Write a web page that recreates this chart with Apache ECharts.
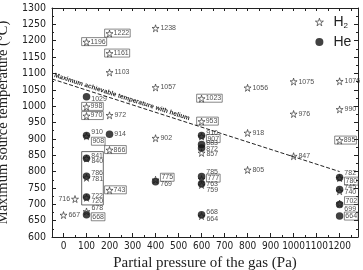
<!DOCTYPE html>
<html>
<head>
<meta charset="utf-8">
<script src="https://cdn.jsdelivr.net/npm/echarts@6/dist/echarts.min.js"></script>
<style>
  html, body { margin: 0; padding: 0; background: #fff; }
  #chart { width: 363px; height: 270px; }
</style>
</head>
<body>
<div id="chart"></div>
<script>
// values (Pa, degC)
const h2Pressure = [0, 50, 100, 100, 100, 100, 100, 100, 100, 100, 200, 200, 200, 200, 200, 200, 400, 400, 400, 400, 600, 600, 600, 600, 600, 600, 600, 800, 800, 800, 1000, 1000, 1000, 1200, 1200, 1200, 1200, 1200, 1200]
const h2Temp = [667, 716, 1196, 998, 970, 908, 840, 781, 720, 678, 1222, 1161, 1103, 972, 866, 743, 1238, 1057, 902, 775, 1023, 953, 907, 857, 777, 759, 664, 1056, 918, 805, 1075, 976, 847, 1076, 990, 895, 780, 740, 702]
const hePressure = [100, 100, 100, 100, 100, 100, 200, 400, 600, 600, 600, 600, 600, 600, 1200, 1200, 1200, 1200]
const heTemp = [1029, 910, 841, 786, 722, 668, 914, 769, 910, 883, 872, 785, 763, 668, 782, 745, 699, 664]

// dashed "maximum achievable temperature with helium" line, end points
const limitPressure = [-50, 1200]
const limitTemp = [1083, 800]

// the tall frame round the 100 Pa group
const groupPressure = [79, 173]
const groupTemp = [861, 698]

const xTicks = [0, 100, 200, 300, 400, 500, 600, 700, 800, 900, 1000, 1100, 1200]

// label styling (which labels are framed, small vertical nudges)
const boxedWithSymbol = ['100-1196', '100-998', '100-970', '200-1222', '200-1161', '200-866', '200-743', '600-1023', '600-953', '1200-895']
const boxedLabel = ['100-908', '100-668', '400-775', '600-907', '600-777', '1200-780', '1200-702', '1200-664']
const labelLeft = ['50-716']
const nudge = {
  '100-1029': 2, '100-910': -4, '100-908': 5, '100-841': -2.5, '100-840': 3,
  '100-786': -3, '100-781': 1, '100-722': -1, '100-720': 3, '100-678': -3, '100-668': 2,
  '400-775': -2.5, '400-769': 2.5,
  '600-910': -3, '600-907': 2, '600-883': -1, '600-872': 1, '600-857': 1,
  '600-785': -4, '600-777': -1, '600-763': 0, '600-759': 5, '600-668': -2.5, '600-664': 3,
  '1200-782': -4, '1200-780': 3, '1200-745': -3, '1200-740': 1, '1200-702': -3, '1200-699': 4, '1200-664': 0
}

const star = 'path://M50,0 L61,35 L98,35 L68,57 L79,91 L50,70 L21,91 L32,57 L2,35 L39,35 Z'
const sans = 'Liberation Sans, Arial, sans-serif'
const narrow = "'Liberation Sans Narrow', 'DejaVu Sans Condensed', 'Liberation Sans', sans-serif"
const serif = "'Liberation Serif', 'Times New Roman', serif"
const hollow = { color: '#fff', borderColor: '#222', borderWidth: 0.8 }

function pointLabel (p, t) {
  const key = p + '-' + t
  const lab = {
    show: true,
    formatter: String(t),
    position: 'right',
    distance: 1,
    offset: [0, nudge[key] || 0],
    fontSize: 7,
    fontFamily: sans,
    color: '#222'
  }
  if (boxedWithSymbol.includes(key)) {
    Object.assign(lab, {
      position: [-1, 3.5],
      align: 'left',
      verticalAlign: 'middle',
      padding: [1, 1, 0, 9],
      borderColor: '#444',
      borderWidth: 0.8
    })
  } else if (boxedLabel.includes(key)) {
    Object.assign(lab, { padding: [1, 1, 0, 1], borderColor: '#444', borderWidth: 0.8 })
  }
  if (labelLeft.includes(key)) lab.position = 'left'
  return lab
}

function build (ps, ts) {
  return ps.map((p, i) => ({ value: [p, ts[i]], label: pointLabel(p, ts[i]) }))
}

const chart = echarts.init(document.getElementById('chart'))

const axisLine = { show: true, onZero: false, lineStyle: { color: '#222', width: 1 } }
const plain = v => String(v)

chart.setOption({
  animation: false,
  backgroundColor: '#fff',
  grid: { left: 52, right: 5, top: 8, bottom: 33, outerBoundsMode: 'none', containLabel: false },
  legend: {
    orient: 'vertical',
    left: 310,
    top: 10,
    itemGap: 5,
    itemWidth: 8,
    itemHeight: 8,
    data: [
      { name: 'H2', icon: star, itemStyle: hollow },
      { name: 'He', icon: 'circle' }
    ],
    formatter: name => name === 'H2' ? '{h|H}{s|2}' : '{h|He}',
    textStyle: {
      rich: {
        h: { fontSize: 14, lineHeight: 16, padding: [0, 0, 0, 5], fontFamily: sans, color: '#222' },
        s: { fontSize: 8, lineHeight: 8, verticalAlign: 'bottom', fontFamily: sans, color: '#222' }
      }
    }
  },
  xAxis: [
    {
      type: 'value',
      position: 'bottom',
      min: -50,
      max: 1280,
      interval: 50,
      axisLine,
      axisTick: { inside: true, length: 4, customValues: xTicks, lineStyle: { color: '#222' } },
      axisLabel: { customValues: xTicks, formatter: plain, margin: 4, fontSize: 10, fontFamily: narrow, color: '#222' },
      splitLine: { show: false },
      name: 'Partial pressure of the gas (Pa)',
      nameLocation: 'middle',
      nameGap: 17,
      nameTextStyle: { fontFamily: serif, fontSize: 15, color: '#222' }
    },
    {
      type: 'value',
      position: 'bottom',
      min: -50,
      max: 1280,
      interval: 50,
      axisLine: { show: false },
      axisTick: { inside: true, length: 2, lineStyle: { color: '#222' } },
      axisLabel: { show: false },
      splitLine: { show: false }
    },
    {
      type: 'value',
      position: 'top',
      min: -50,
      max: 1280,
      interval: 50,
      axisLine,
      axisTick: { inside: true, length: 3, lineStyle: { color: '#222' } },
      axisLabel: { show: false },
      splitLine: { show: false }
    }
  ],
  yAxis: [
    {
      type: 'value',
      position: 'left',
      min: 600,
      max: 1300,
      interval: 50,
      axisLine,
      axisTick: { inside: true, length: 4, lineStyle: { color: '#222' } },
      minorTick: { show: true, splitNumber: 2, length: 2, lineStyle: { color: '#222' } },
      axisLabel: { formatter: plain, margin: 6, fontSize: 10.5, fontFamily: narrow, color: '#222' },
      splitLine: { show: false },
      name: 'Maximum source temperature (°C)',
      nameLocation: 'middle',
      nameGap: 33,
      nameTextStyle: { fontFamily: serif, fontSize: 14.5, color: '#222' }
    },
    {
      type: 'value',
      position: 'right',
      min: 600,
      max: 1300,
      interval: 50,
      axisLine,
      axisTick: { inside: true, length: 4, lineStyle: { color: '#222' } },
      minorTick: { show: true, splitNumber: 2, length: 2, lineStyle: { color: '#222' } },
      axisLabel: { show: false },
      splitLine: { show: false }
    }
  ],
  series: [
    {
      name: 'H2',
      type: 'scatter',
      xAxisIndex: 0,
      yAxisIndex: 0,
      symbol: star,
      symbolSize: 7,
      itemStyle: hollow,
      data: build(h2Pressure, h2Temp),
      markLine: {
        silent: true,
        symbol: ['none', 'none'],
        lineStyle: { type: 'dashed', color: '#222', width: 1 },
        label: {
          show: true,
          position: 'insideStartTop',
          distance: 1,
          formatter: 'Maximum achievable temperature with helium',
          fontSize: 6.5,
          fontWeight: 'bold',
          fontFamily: sans,
          color: '#222'
        },
        data: [[
          { coord: [limitPressure[0], limitTemp[0]] },
          { coord: [limitPressure[1], limitTemp[1]] }
        ]]
      }
    },
    {
      name: 'He',
      type: 'scatter',
      xAxisIndex: 0,
      yAxisIndex: 0,
      symbol: 'circle',
      symbolSize: 7.5,
      itemStyle: { color: '#111' },
      data: build(hePressure, heTemp),
      markArea: {
        silent: true,
        itemStyle: { color: 'rgba(0,0,0,0)', borderColor: '#444', borderWidth: 0.8 },
        data: [[
          { coord: [groupPressure[0], groupTemp[0]] },
          { coord: [groupPressure[1], groupTemp[1]] }
        ]]
      }
    }
  ]
})
</script>
</body>
</html>
